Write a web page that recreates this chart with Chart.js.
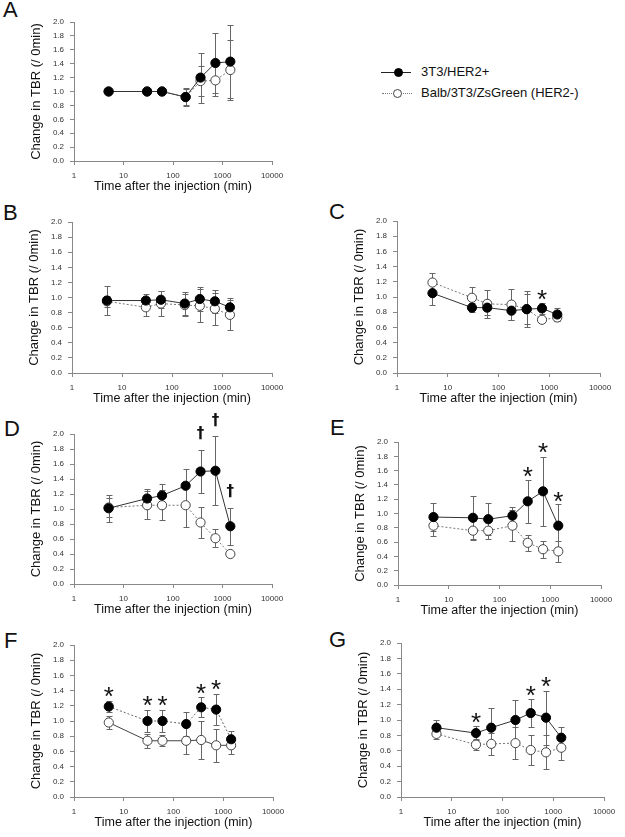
<!DOCTYPE html>
<html>
<head>
<meta charset="utf-8">
<script src="https://cdn.jsdelivr.net/npm/chart.js@4.4.0/dist/chart.umd.min.js"></script>
<style>
  html, body { margin:0; padding:0; background:#fff; }
  body { width:625px; height:837px; position:relative; overflow:hidden; font-family: Arial, "Liberation Sans", sans-serif; }
  canvas { position:absolute; }
  .lbl { position:absolute; font-size:22px; line-height:22px; color:#111; }
  .legtxt { position:absolute; font-size:13px; line-height:16px; color:#111; white-space:nowrap; }
  .legline { position:absolute; height:0; width:30px; }
  .legdot { position:absolute; width:9px; height:9px; border-radius:50%; box-sizing:border-box; }
</style>
</head>
<body>
<div class="lbl" style="left:3px;top:-1px">A</div>
<div class="lbl" style="left:3px;top:202px">B</div>
<div class="lbl" style="left:329px;top:201px">C</div>
<div class="lbl" style="left:4px;top:418px">D</div>
<div class="lbl" style="left:330px;top:417px">E</div>
<div class="lbl" style="left:4px;top:630px">F</div>
<div class="lbl" style="left:329px;top:629px">G</div>

<div class="legline" style="left:381px;top:72px;border-top:1px solid #222"></div>
<div class="legdot" style="left:394px;top:68px;background:#000;border:1px solid #000"></div>
<div class="legtxt" style="left:421px;top:64px">3T3/HER2+</div>
<div class="legline" style="left:382px;top:93px;border-top:1px dotted #777"></div>
<div class="legdot" style="left:393px;top:89px;background:#fff;border:1px solid #444"></div>
<div class="legtxt" style="left:421px;top:85px">Balb/3T3/ZsGreen (HER2-)</div>

<script>
// ---------------- DATA ----------------
const timesMin = [5, 30, 60, 180, 360, 720, 1440];
const xTickValues = [1, 10, 100, 1000, 10000];
const yMin = 0, yMax = 2.0, yStep = 0.2;
const seriesNames = ["3T3/HER2+", "Balb/3T3/ZsGreen (HER2-)"];
const xTitle = "Time after the injection (min)";
const yTitle = "Change in TBR (/ 0min)";

// Panel A
const posA    = [1.00, 1.00, 1.00, 0.92, 1.20, 1.41, 1.43];
const posA_sd = [0, 0, 0, 0.13, 0.36, 0.43, 0.52];
const negA    = [1.00, 1.00, 1.00, 0.92, 1.15, 1.16, 1.31];
const negA_sd = [0, 0, 0, 0.12, 0.22, 0.22, 0.43];
// Panel B
const posB    = [0.96, 0.96, 0.97, 0.92, 0.98, 0.95, 0.87];
const posB_sd = [0.19, 0.08, 0.11, 0.15, 0.16, 0.15, 0.12];
const negB    = [0.95, 0.87, 0.92, 0.90, 0.89, 0.85, 0.77];
const negB_sd = [0.07, 0.12, 0.16, 0.15, 0.22, 0.21, 0.20];
// Panel C
const posC    = [1.05, 0.86, 0.86, 0.82, 0.84, 0.85, 0.77];
const posC_sd = [0.15, 0.06, 0.10, 0.12, 0.24, 0.07, 0.09];
const negC    = [1.19, 0.99, 0.91, 0.90, 0.84, 0.70, 0.73];
const negC_sd = [0.12, 0.14, 0.18, 0.20, 0.20, 0.03, 0.05];
const marksC  = [[720, 1.035]];
// Panel D
const posD    = [1.01, 1.14, 1.18, 1.31, 1.50, 1.51, 0.77];
const posD_sd = [0.18, 0.13, 0.16, 0.23, 0.29, 0.46, 0.25];
const negD    = [1.02, 1.05, 1.05, 1.05, 0.82, 0.61, 0.40];
const negD_sd = [0.13, 0.19, 0.20, 0.29, 0.21, 0.12, 0.03];
const marksD  = [[360, 2.0], [720, 2.17], [1440, 1.22]];
// Panel E
const posE    = [0.95, 0.94, 0.92, 0.97, 1.17, 1.31, 0.83];
const posE_sd = [0.20, 0.30, 0.22, 0.12, 0.30, 0.48, 0.30];
const negE    = [0.83, 0.76, 0.76, 0.83, 0.59, 0.50, 0.47];
const negE_sd = [0.14, 0.13, 0.12, 0.22, 0.11, 0.12, 0.15];
const marksE  = [[360, 1.58], [720, 1.92], [1440, 1.24]];
// Panel F
const posF    = [1.19, 1.00, 1.00, 0.96, 1.18, 1.15, 0.76];
const posF_sd = [0.07, 0.14, 0.14, 0.16, 0.13, 0.20, 0.11];
const negF    = [0.98, 0.74, 0.74, 0.74, 0.75, 0.68, 0.68];
const negF_sd = [0.08, 0.09, 0.07, 0.18, 0.25, 0.22, 0.11];
const marksF  = [[5, 1.38], [30, 1.27], [60, 1.27], [360, 1.42], [720, 1.48]];
// Panel G
const posG    = [0.90, 0.83, 0.90, 1.00, 1.09, 1.03, 0.77];
const posG_sd = [0.10, 0.09, 0.25, 0.26, 0.18, 0.35, 0.14];
const negG    = [0.82, 0.68, 0.69, 0.70, 0.61, 0.58, 0.64];
const negG_sd = [0.07, 0.07, 0.14, 0.21, 0.20, 0.22, 0.16];
const marksG  = [[30, 1.03], [360, 1.38], [720, 1.50]];

// ---------------- LAYOUT ----------------
const panels = [
  { box:{left:74,  right:272, top:22,  bottom:161}, pos:posA, posSd:posA_sd, neg:negA, negSd:negA_sd, marks:[], glyph:'*', swap:false },
  { box:{left:72,  right:272, top:222, bottom:373}, pos:posB, posSd:posB_sd, neg:negB, negSd:negB_sd, marks:[], glyph:'*', swap:false },
  { box:{left:397, right:600, top:221, bottom:373}, pos:posC, posSd:posC_sd, neg:negC, negSd:negC_sd, marks:marksC, glyph:'*', swap:false },
  { box:{left:74,  right:272, top:434, bottom:584}, pos:posD, posSd:posD_sd, neg:negD, negSd:negD_sd, marks:marksD, glyph:'\u2020', swap:false },
  { box:{left:398, right:601, top:442, bottom:585}, pos:posE, posSd:posE_sd, neg:negE, negSd:negE_sd, marks:marksE, glyph:'*', swap:false },
  { box:{left:74,  right:273, top:645, bottom:797}, pos:posF, posSd:posF_sd, neg:negF, negSd:negF_sd, marks:marksF, glyph:'*', swap:true },
  { box:{left:401, right:604, top:643, bottom:797}, pos:posG, posSd:posG_sd, neg:negG, negSd:negG_sd, marks:marksG, glyph:'*', swap:false }
];

const Y_BOX = 60, X_BOX = 40, PAD_TOP = 35, PAD_RIGHT = 30;

const errPlugin = {
  id: 'errbars',
  beforeDatasetsDraw(chart) {
    const { ctx, scales: { x, y } } = chart;
    chart.data.datasets.forEach(ds => {
      const sd = ds.sd; if (!sd) return;
      ctx.save();
      ctx.strokeStyle = '#666';
      ctx.lineWidth = 1;
      ds.data.forEach((p, j) => {
        const e = sd[j]; if (!e) return;
        const px = Math.round(x.getPixelForValue(p.x)) + 0.5;
        const y1 = Math.round(y.getPixelForValue(p.y + e)) + 0.5;
        const y2 = Math.round(y.getPixelForValue(p.y - e)) + 0.5;
        ctx.beginPath();
        ctx.moveTo(px, y1); ctx.lineTo(px, y2);
        ctx.moveTo(px - 3, y1); ctx.lineTo(px + 3, y1);
        ctx.moveTo(px - 3, y2); ctx.lineTo(px + 3, y2);
        ctx.stroke();
      });
      ctx.restore();
    });
  }
};

const markPlugin = {
  id: 'marks',
  afterDatasetsDraw(chart, args, opts) {
    const { ctx, scales: { x, y } } = chart;
    const items = opts.items || [];
    items.forEach(m => {
      ctx.save();
      ctx.fillStyle = '#111';
      ctx.textAlign = 'center';
      ctx.textBaseline = 'middle';
      let dy = 0;
      if (opts.glyph === '*') { ctx.font = '26px Arial, "Liberation Sans"'; dy = 6; }
      else { ctx.font = 'bold 15px "DejaVu Sans", Arial'; dy = 0; }
      ctx.fillText(opts.glyph, x.getPixelForValue(m[0]), y.getPixelForValue(m[1]) + dy);
      ctx.restore();
    });
  }
};

function pts(arr) { return timesMin.map((t, i) => ({ x: t, y: arr[i] })); }

panels.forEach(p => {
  const b = p.box;
  const cLeft = b.left - Y_BOX;
  const cTop = b.top - PAD_TOP;
  const w = (b.right - b.left) + Y_BOX + PAD_RIGHT;
  const h = (b.bottom - b.top) + PAD_TOP + X_BOX;
  const cv = document.createElement('canvas');
  cv.width = w; cv.height = h;
  cv.style.left = cLeft + 'px'; cv.style.top = cTop + 'px';
  cv.style.width = w + 'px'; cv.style.height = h + 'px';
  document.body.appendChild(cv);

  const solid = [], dotted = [2, 2];
  new Chart(cv.getContext('2d'), {
    type: 'line',
    data: {
      datasets: [
        {
          label: seriesNames[0], data: pts(p.pos), sd: p.posSd,
          borderColor: p.swap ? '#666' : '#333', borderWidth: 1, borderDash: p.swap ? dotted : solid,
          pointRadius: 4.6, pointBackgroundColor: '#000', pointBorderColor: '#000', pointBorderWidth: 1,
          fill: false, tension: 0
        },
        {
          label: seriesNames[1], data: pts(p.neg), sd: p.negSd,
          borderColor: p.swap ? '#444' : '#777', borderWidth: 1, borderDash: p.swap ? solid : dotted,
          pointRadius: 4.6, pointBackgroundColor: '#fff', pointBorderColor: '#444', pointBorderWidth: 1,
          fill: false, tension: 0
        }
      ]
    },
    options: {
      responsive: false, maintainAspectRatio: false, animation: false, devicePixelRatio: 1,
      layout: { padding: { left: 0, right: PAD_RIGHT, top: PAD_TOP, bottom: 0 } },
      plugins: {
        legend: { display: false }, tooltip: { enabled: false },
        marks: { items: p.marks, glyph: p.glyph }
      },
      scales: {
        x: {
          type: 'logarithmic', min: xTickValues[0], max: xTickValues[xTickValues.length - 1],
          afterBuildTicks: s => { s.ticks = xTickValues.map(v => ({ value: v, major: true })); },
          afterFit: s => { s.height = X_BOX; },
          ticks: { callback: v => String(v), autoSkip: false, maxRotation: 0, minRotation: 0, padding: 5.5,
                   font: { family: 'Arial, "Liberation Sans"', size: 8 }, color: '#333' },
          grid: { display: true, drawOnChartArea: false, drawTicks: true, tickLength: 4, color: '#888' },
          border: { display: true, color: '#888', width: 1 },
          title: { display: true, text: xTitle, color: '#111', padding: { top: 0, bottom: 6.5 },
                   font: { family: 'Arial, "Liberation Sans"', size: 12.5 } }
        },
        y: {
          type: 'linear', min: yMin, max: yMax,
          afterFit: s => { s.width = Y_BOX; },
          ticks: { stepSize: yStep, callback: v => Number(v).toFixed(1), autoSkip: false, padding: 6,
                   font: { family: 'Arial, "Liberation Sans"', size: 8 }, color: '#333' },
          grid: { display: true, drawOnChartArea: false, drawTicks: true, tickLength: 4, color: '#888' },
          border: { display: true, color: '#888', width: 1 },
          title: { display: true, text: yTitle, color: '#111', padding: { top: 14.2, bottom: 0 },
                   font: { family: 'Arial, "Liberation Sans"', size: 13 } }
        }
      }
    },
    plugins: [errPlugin, markPlugin]
  });
});
</script>
</body>
</html>
